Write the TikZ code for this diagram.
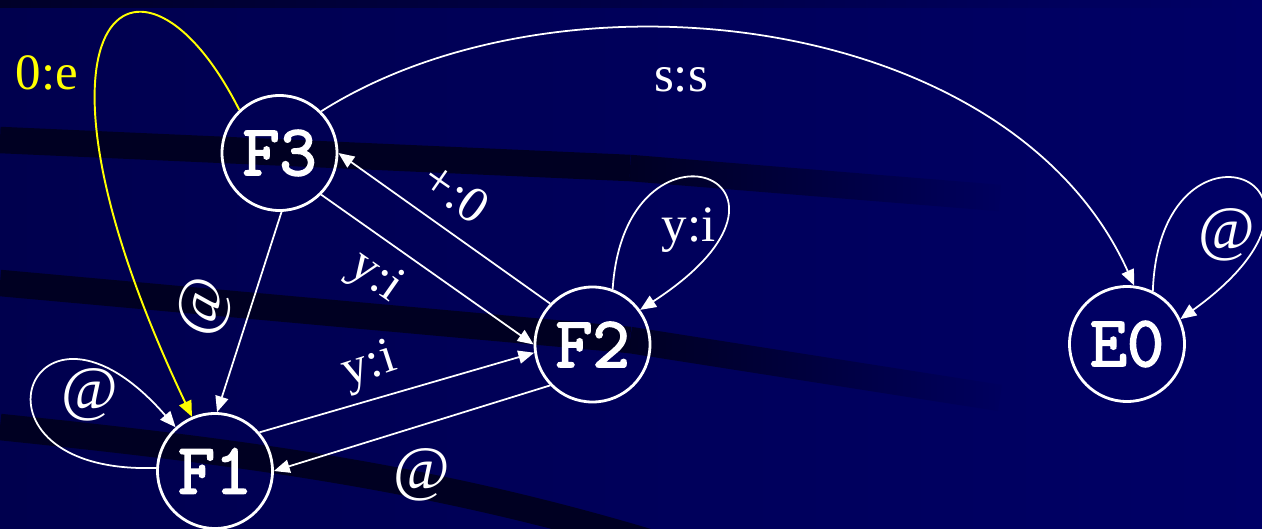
\documentclass[tikz,border=0pt]{standalone}
\usepackage{fontspec}
\setmainfont{Liberation Serif}
\newfontfamily\statefont{Latin Modern Mono}[FakeBold=2.5]
\usepackage{tikz}
\usetikzlibrary{arrows.meta, fadings}
\definecolor{navyleft}{HTML}{00004E}
\definecolor{navyright}{HTML}{000066}
\definecolor{navytop}{HTML}{000028}
\definecolor{navystripe}{HTML}{000022}
\definecolor{epsyellow}{HTML}{FFFF00}

\begin{document}
\begin{tikzpicture}[
  state/.style={draw=white, circle, line width=1.6pt, minimum size=2.3cm,
                inner sep=0pt, text=white,
                font=\fontsize{41}{44}\selectfont\statefont},
  trans/.style={draw=white, line width=1pt, -{Triangle[length=9pt,width=7.5pt]}},
  epsilon/.style={draw=epsyellow, line width=1.1pt, -{Triangle[length=9pt,width=7.5pt]}},
  tlabel/.style={text=white, inner sep=0pt, font=\fontsize{29}{32}\selectfont},
  atlabel/.style={tlabel, font=\fontsize{35}{38}\selectfont},
  stripe/.style={draw=navystripe, line width=0.53cm},
]

% background
\useasboundingbox (0,0) rectangle (25.24,10.56);
\shade[left color=navyleft, right color=navyright] (0,0) rectangle (25.24,10.56);
\shade[left color=navytop, right color=navyright] (0,10.40) rectangle (25.24,10.56);
\draw[stripe] (0,7.76) -- (12.6,7.20);
\draw[stripe, path fading=east] (12.6,7.20) -- (20,6.6);
\draw[stripe] (0,4.90) -- (12.6,3.76);
\draw[stripe, path fading=east] (12.6,3.76) -- (20,2.6);
\draw[stripe] (0,2.02) .. controls (5,1.5) and (9,1.0) .. (14,-0.6);

\node[state] (f3) at (5.59,7.50) {F3};
\node[state] (f1) at (4.30,1.14) {F1};
\node[state] (f2) at (11.85,3.67) {F2};
\node[state] (e0) at (22.54,3.68) {E0};

\draw[epsilon] (f3.133) .. controls (2.8,12.3) and (0.0,10.3) .. (f1.113);
\node[tlabel, text=epsyellow] (eps) at (0.94,9.10) {0:e};

\draw[trans] (f3.45) .. controls (11.2,11.36) and (20.2,10.36) .. (e0.83);
\node[tlabel] (ss) at (13.62,8.96) {s:s};

\draw[trans] (f2.136) -- (f3.east);
\node[tlabel, rotate=-35] (plus) at (9.12,6.70) {+:0};

\draw[trans] (f3.-45) -- (f2.west);
\node[tlabel, rotate=-35] (yi32) at (7.50,5.00) {y:i};

\draw[trans] (f3.-88) -- (f1.88);
\node[atlabel, rotate=73] (at31) at (4.10,4.42) {@};

\draw[trans] (f1.41) -- (f2.188);
\node[tlabel, rotate=18] (yi12) at (7.39,3.22) {y:i};

\draw[trans] (f2.224) -- (f1.east);
\node[atlabel] (at21) at (8.43,1.06) {@};

% self loops
\draw[trans] (f1.177) .. controls (-1.0,1.06) and (0.6,5.36) .. (f1.132);
\node[atlabel] (at11) at (1.80,2.66) {@};

\draw[trans] (f2.70) .. controls (12.5,8.56) and (16.8,6.96) .. (f2.36);
\node[tlabel] (yi22) at (13.77,5.96) {y:i};

\draw[trans] (e0.64) .. controls (23.19,8.57) and (27.49,6.97) .. (e0.25);
\node[atlabel] (at00) at (24.53,5.86) {@};

\end{tikzpicture}
\end{document}
